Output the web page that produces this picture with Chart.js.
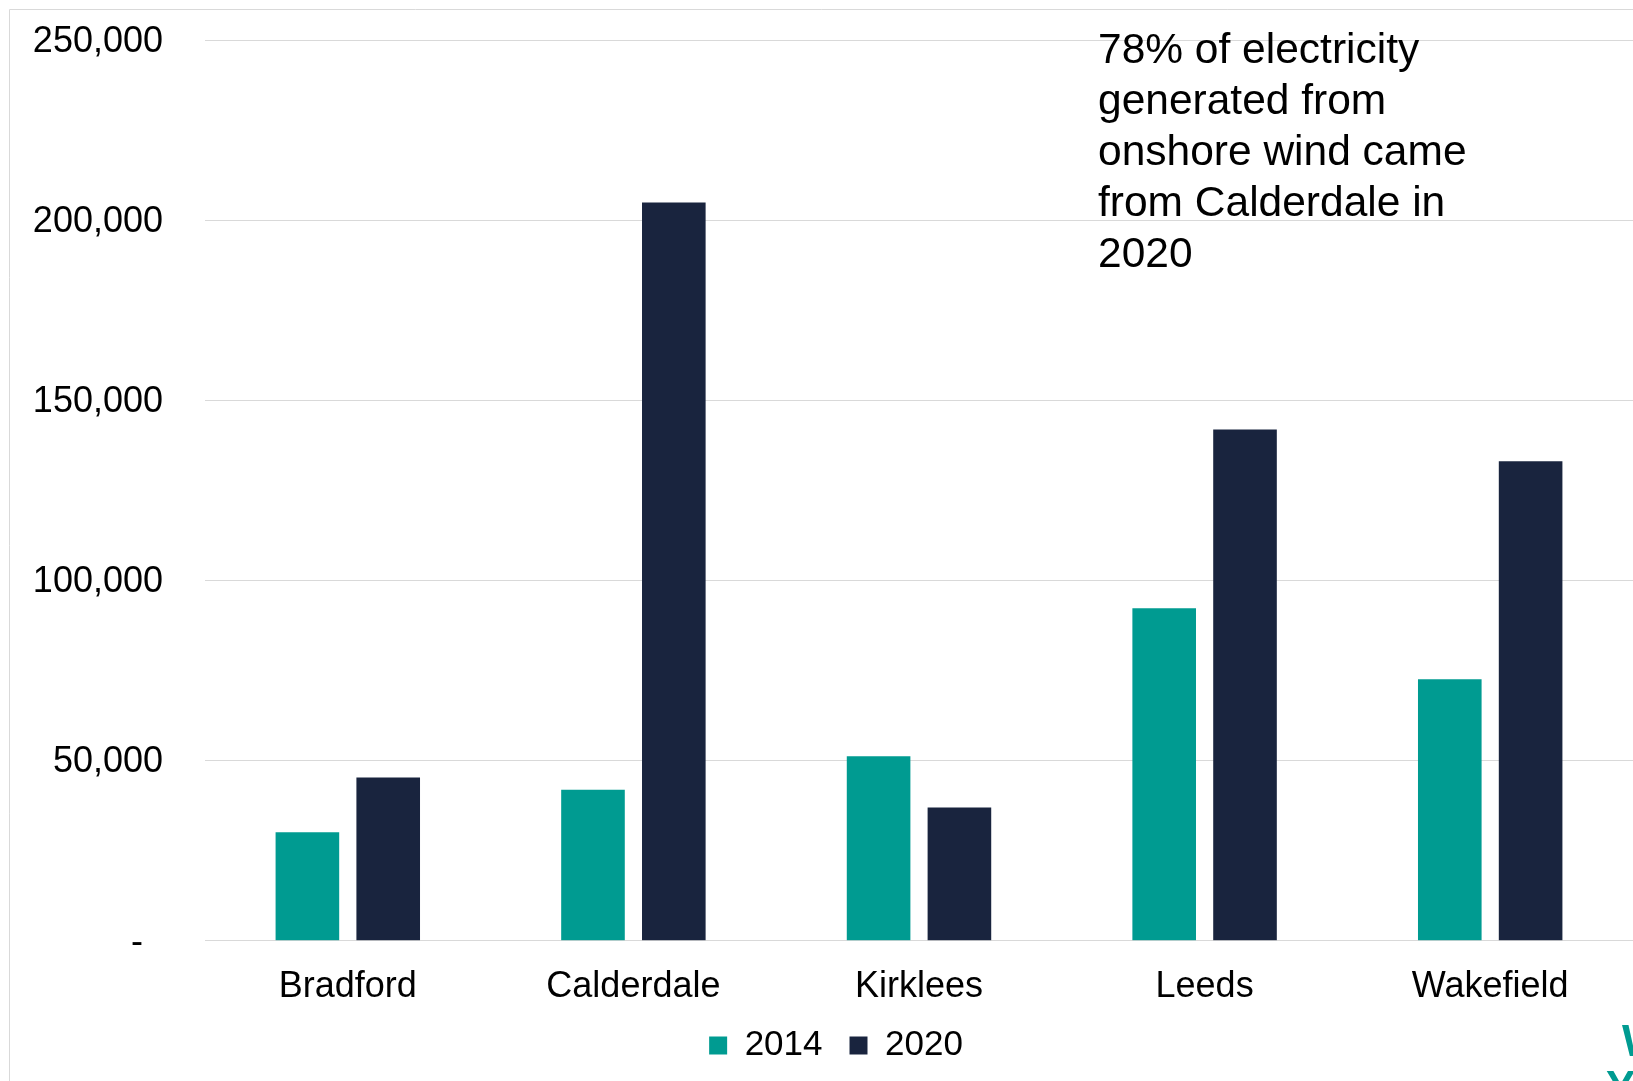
<!DOCTYPE html>
<html>
<head>
<meta charset="utf-8">
<script src="https://cdn.jsdelivr.net/npm/chart.js@4.4.1/dist/chart.umd.min.js"></script>
<style>
  html, body { margin: 0; padding: 0; background: #fff; overflow: hidden; }
  canvas { display: block; }
</style>
</head>
<body>
<canvas id="grafico" width="1633" height="1081"></canvas>
<script>
// Datos
const categorias = ['Bradford', 'Calderdale', 'Kirklees', 'Leeds', 'Wakefield'];
const series = ['2014', '2020'];
const valores2014 = [30100, 41900, 51200, 92300, 72600];
const valores2020 = [45300, 204900, 37000, 141900, 133100];
const ticksY = [0, 50000, 100000, 150000, 200000, 250000];
const notaLineas = [
    '78% of electricity',
    'generated from',
    'onshore wind came',
    'from Calderdale in',
    '2020'
];

const colorTeal = '#009B91';
const colorNavy = '#19243E';
const colorGrid = '#D9D9D9';
const fuente = '"Liberation Sans", Arial, sans-serif';

// Marco, nota y logo recortado
const extras = {
    id: 'extras',
    afterLayout(chart) {
        // ajusta la posicion de la leyenda
        const leg = chart.legend;
        if (leg) {
            leg.top -= 8;
            leg.bottom -= 8;
            leg.left += 3;
            leg.right += 3;
        }
    },
    beforeDraw(chart) {
        const ctx = chart.ctx;
        ctx.save();
        ctx.strokeStyle = colorGrid;
        ctx.lineWidth = 1;
        ctx.beginPath();
        ctx.moveTo(9.5, chart.height);
        ctx.lineTo(9.5, 9.5);
        ctx.lineTo(chart.width, 9.5);
        ctx.stroke();
        ctx.restore();
    },
    afterDraw(chart) {
        const ctx = chart.ctx;
        ctx.save();
        ctx.fillStyle = '#000';
        ctx.font = '42.5px ' + fuente;
        ctx.textAlign = 'left';
        ctx.textBaseline = 'alphabetic';
        notaLineas.forEach((linea, i) => {
            ctx.fillText(linea, 1098, 63 + i * 51);
        });

        // logo cortado en la esquina
        ctx.fillStyle = colorTeal;
        ctx.font = 'bold 44px ' + fuente;
        ctx.fillText('W', 1622, 1056);
        ctx.fillText('Y', 1606, 1102);
        ctx.restore();
    }
};

const ctx = document.getElementById('grafico');

new Chart(ctx, {
    type: 'bar',
    data: {
        labels: categorias,
        datasets: [
            {
                label: series[0],
                data: valores2014,
                backgroundColor: colorTeal,
                borderWidth: 0,
                categoryPercentage: 0.566,
                barPercentage: 0.787
            },
            {
                label: series[1],
                data: valores2020,
                backgroundColor: colorNavy,
                borderWidth: 0,
                categoryPercentage: 0.566,
                barPercentage: 0.787
            }
        ]
    },
    options: {
        responsive: false,
        animation: false,
        devicePixelRatio: 1,
        layout: {
            padding: { top: 40, left: 33, right: 0, bottom: 0 }
        },
        plugins: {
            legend: {
                position: 'bottom',
                labels: {
                    boxWidth: 18,
                    boxHeight: 18,
                    padding: 27,
                    color: '#000',
                    font: { family: fuente, size: 35 }
                }
            },
            tooltip: { enabled: false }
        },
        scales: {
            x: {
                grid: { display: false, drawTicks: false },
                border: { display: false },
                ticks: {
                    color: '#000',
                    padding: 25,
                    font: { family: fuente, size: 36 }
                },
                afterFit(scale) {
                    scale.height = 68.3;
                }
            },
            y: {
                min: 0,
                max: 250000,
                border: { display: false },
                grid: {
                    color: colorGrid,
                    lineWidth: 1,
                    drawTicks: false
                },
                afterBuildTicks(scale) {
                    scale.ticks = ticksY.map(v => ({ value: v }));
                },
                ticks: {
                    color: '#000',
                    padding: 42,
                    labelOffset: 2,
                    font: { family: fuente, size: 36 },
                    callback: function (value) {
                        if (value === 0) return '-  ';
                        return value.toLocaleString('en-GB');
                    }
                },
                afterFit(scale) {
                    scale.width = 172;
                    scale.paddingTop = 0;
                    scale.paddingBottom = 0;
                }
            }
        }
    },
    plugins: [extras]
});
</script>
</body>
</html>
